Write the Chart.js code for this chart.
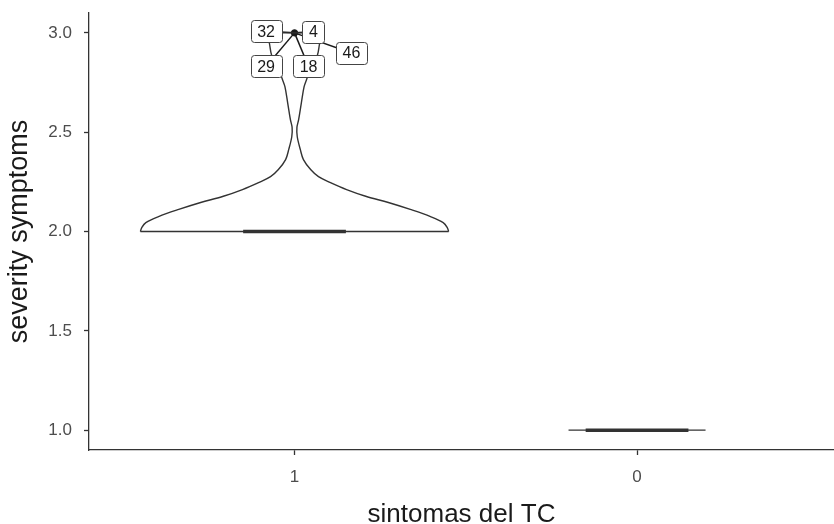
<!DOCTYPE html>
<html>
<head>
<meta charset="utf-8">
<script src="https://cdn.jsdelivr.net/npm/chart.js@4"></script>
<style>
  html, body { margin: 0; padding: 0; background: #fff; }
  canvas { display: block; }
</style>
</head>
<body>
<canvas id="chart" width="834" height="524"></canvas>
<script>
// x categories (group 1 drawn first, group 0 second)
const categories = ['1', '0'];
const yTicks = [1.0, 1.5, 2.0, 2.5, 3.0];

// violin outline for group "1": value level and half width
const violinY    = [2.000, 2.020, 2.045, 2.075, 2.111, 2.146, 2.176, 2.211, 2.246, 2.276, 2.312, 2.362, 2.412, 2.477, 2.523, 2.563, 2.648, 2.729, 2.764, 2.839, 2.889, 2.945, 3.000];
const violinHalf = [0.450, 0.446, 0.434, 0.397, 0.338, 0.274, 0.210, 0.152, 0.105, 0.070, 0.047, 0.026, 0.017, 0.008, 0.007, 0.012, 0.020, 0.028, 0.035, 0.052, 0.067, 0.073, 0.079];
// group "0" has every value at 1, violin collapses to a flat line
const group0Half = 0.2;

// medians (box collapses to a line)
const medians = [2, 1];

// outlier of group "1" and the ids labelled on it
const outlierX = [1];
const outlierY = [3];
const outlierIds = ['32', '4', '46', '29', '18'];
// where the repelled labels ended up (data units)
const labelX = [0.917, 1.055, 1.166, 0.917, 1.041];
const labelY = [3.008, 3.005, 2.899, 2.831, 2.831];

const LINE = '#333333';
const TXT = '#4d4d4d';
const FONT = "'Liberation Sans', Arial, sans-serif";
const BOX_HALF = 0.15;

const leftSide = violinY.map((y, i) => ({ x: 1 - violinHalf[i], y: y }));
const rightSide = violinY.map((y, i) => ({ x: 1 + violinHalf[i], y: y }));
const last = violinHalf.length - 1;

function seg(pts, width) {
  return {
    data: pts, showLine: true, pointRadius: 0, borderColor: LINE,
    borderWidth: width, tension: 0, fill: false
  };
}

const datasets = [
  Object.assign(seg(leftSide, 1.4), { tension: 0.35 }),
  Object.assign(seg(rightSide, 1.4), { tension: 0.35 }),
  seg([{ x: 1 - violinHalf[0], y: violinY[0] }, { x: 1 + violinHalf[0], y: violinY[0] }], 1.4),
  seg([{ x: 1 - violinHalf[last], y: violinY[last] }, { x: 1 + violinHalf[last], y: violinY[last] }], 1.4),
  seg([{ x: 2 - group0Half, y: medians[1] }, { x: 2 + group0Half, y: medians[1] }], 1.4),
  seg([{ x: 1 - BOX_HALF, y: medians[0] }, { x: 1 + BOX_HALF, y: medians[0] }], 3.5),
  seg([{ x: 2 - BOX_HALF, y: medians[1] }, { x: 2 + BOX_HALF, y: medians[1] }], 3.5),
  {
    data: outlierX.map((x, i) => ({ x: x, y: outlierY[i] })),
    pointRadius: 3.2, pointBackgroundColor: '#1a1a1a', pointBorderColor: '#1a1a1a',
    showLine: false
  }
];

// segments + label boxes for the outlier ids
const repelLabels = {
  id: 'repelLabels',
  beforeDatasetsDraw(chart) {
    const ctx = chart.ctx, xs = chart.scales.x, ys = chart.scales.y;
    const px = xs.getPixelForValue(outlierX[0]), py = ys.getPixelForValue(outlierY[0]);
    ctx.save();
    ctx.strokeStyle = '#1a1a1a';
    ctx.lineWidth = 1.5;
    outlierIds.forEach((id, i) => {
      ctx.beginPath();
      ctx.moveTo(px, py);
      ctx.lineTo(xs.getPixelForValue(labelX[i]), ys.getPixelForValue(labelY[i]));
      ctx.stroke();
    });
    ctx.restore();
  },
  afterDatasetsDraw(chart) {
    const ctx = chart.ctx, xs = chart.scales.x, ys = chart.scales.y;
    ctx.save();
    ctx.font = '16px ' + FONT;
    ctx.textAlign = 'center';
    ctx.textBaseline = 'middle';
    outlierIds.forEach((id, i) => {
      const cx = xs.getPixelForValue(labelX[i]);
      const cy = ys.getPixelForValue(labelY[i]);
      const w = ctx.measureText(id).width + 13;
      const h = 22;
      ctx.beginPath();
      ctx.roundRect(Math.round(cx - w / 2) + 0.5, Math.round(cy - h / 2) + 0.5, Math.round(w), h, 3);
      ctx.fillStyle = '#ffffff';
      ctx.fill();
      ctx.strokeStyle = '#444444';
      ctx.lineWidth = 1;
      ctx.stroke();
      ctx.fillStyle = '#1a1a1a';
      ctx.fillText(id, cx, cy + 1);
    });
    ctx.restore();
  }
};

function noPad(s) {
  s.paddingTop = 0; s.paddingBottom = 0; s.paddingLeft = 0; s.paddingRight = 0;
}

new Chart(document.getElementById('chart'), {
  type: 'scatter',
  data: { datasets: datasets },
  plugins: [repelLabels],
  options: {
    responsive: false,
    animation: false,
    devicePixelRatio: 1,
    layout: { autoPadding: false, padding: { top: 13, right: 0, bottom: 0, left: 0 } },
    plugins: { legend: { display: false }, tooltip: { enabled: false } },
    scales: {
      x: {
        type: 'linear',
        min: 0.4,
        max: 2.575,
        afterBuildTicks: (s) => { s.ticks = categories.map((c, i) => ({ value: i + 1 })); },
        afterFit: (s) => { s.height = 74; noPad(s); },
        grid: { display: true, drawOnChartArea: false, color: LINE, tickLength: 5, tickWidth: 1.3 },
        border: { display: true, color: LINE, width: 1.3 },
        ticks: {
          color: TXT, padding: 12,
          font: { family: FONT, size: 17 },
          callback: (v) => categories[Math.round(v) - 1]
        },
        title: {
          display: true, text: 'sintomas del TC', color: '#1a1a1a',
          font: { family: FONT, size: 26 }, padding: { top: 0, bottom: -6 }
        }
      },
      y: {
        type: 'linear',
        min: 0.9,
        max: 3.1,
        afterBuildTicks: (s) => { s.ticks = yTicks.map(v => ({ value: v })); },
        afterFit: (s) => { s.width = 89; noPad(s); },
        grid: { display: true, drawOnChartArea: false, color: LINE, tickLength: 5, tickWidth: 1.3 },
        border: { display: true, color: LINE, width: 1.3 },
        ticks: {
          color: TXT, padding: 12,
          font: { family: FONT, size: 17 },
          callback: (v) => v.toFixed(1)
        },
        title: {
          display: true, text: 'severity symptoms', color: '#1a1a1a',
          font: { family: FONT, size: 27 }, padding: { top: 3, bottom: 0 }
        }
      }
    }
  }
});
</script>
</body>
</html>
